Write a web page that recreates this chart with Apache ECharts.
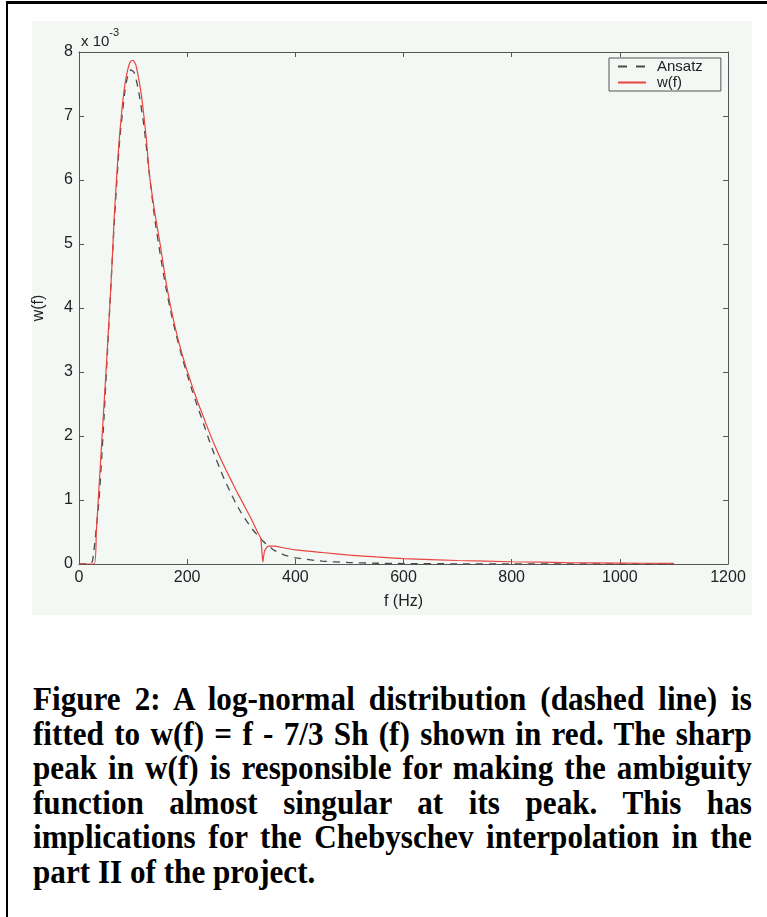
<!DOCTYPE html>
<html>
<head>
<meta charset="utf-8">
<script src="https://cdn.jsdelivr.net/npm/echarts@6/dist/echarts.min.js"></script>
<style>
	html, body { margin: 0; padding: 0; background: #fff; }
	#frame { position: absolute; left: 6px; top: 1px; width: 761px; height: 916px; border-top: 3px solid #000; border-left: 2px solid #000; box-sizing: border-box; }
	#main { position: absolute; left: 0; top: 0; width: 767px; height: 640px; }
	#caption { position: absolute; left: 33px; top: 682px; width: 773px; font-family: "Liberation Serif", "Times New Roman", serif; font-weight: bold; font-size: 33.5px; line-height: 34.6px; text-align: justify; color: #000; transform: scaleX(0.93); transform-origin: 0 0; }
</style>
</head>
<body>
<div id="frame"></div>
<div id="main"></div>
<div id="caption">Figure 2: A log-normal distribution (dashed line) is fitted to w(f) = f - 7/3 Sh (f) shown in red. The sharp peak in w(f) is responsible for making the ambiguity function almost singular at its peak. This has implications for the Chebyschev interpolation in the part II of the project.</div>
<script>
	// 数据 (w 的单位为 10^-3)
	var fAnsatz = [0, 20, 25, 30, 37, 45, 55, 65, 75, 85, 90, 96, 102, 110, 120, 130, 140, 150, 160, 170, 180, 190, 200, 210, 220, 230, 240, 250, 260, 270, 280, 290, 300, 320, 340, 360, 380, 400, 450, 500, 550, 600, 700, 800, 900, 1000, 1100];
	var wAnsatz = [0, 0, 0.05, 0.4, 1.0, 2.1, 3.7, 5.3, 6.6, 7.4, 7.62, 7.72, 7.68, 7.4, 6.85, 6.1, 5.4, 4.85, 4.35, 3.93, 3.57, 3.25, 2.96, 2.69, 2.44, 2.2, 1.95, 1.72, 1.5, 1.3, 1.12, 0.95, 0.8, 0.55, 0.36, 0.22, 0.14, 0.095, 0.045, 0.022, 0.012, 0.007, 0.003, 0.001, 0, 0, 0];

	var fW = [0, 28, 32, 37, 42, 47, 52, 56, 60, 65, 70, 75, 80, 85, 90, 95, 100, 105, 110, 115, 120, 125, 130, 140, 150, 160, 170, 180, 190, 200, 210, 220, 230, 240, 250, 260, 270, 280, 290, 300, 310, 320, 330, 336, 340, 343, 350, 360, 380, 400, 450, 500, 550, 600, 700, 800, 900, 1000, 1100];
	var wW = [0, 0, 0.5, 1.2, 1.9, 2.6, 3.3, 3.9, 4.5, 5.4, 6.1, 6.7, 7.15, 7.5, 7.72, 7.85, 7.87, 7.8, 7.6, 7.35, 7.0, 6.6, 6.1, 5.5, 5.0, 4.45, 4.0, 3.62, 3.3, 3.02, 2.76, 2.52, 2.3, 2.08, 1.87, 1.68, 1.5, 1.33, 1.16, 1.0, 0.84, 0.68, 0.5, 0.4, 0.03, 0.2, 0.28, 0.28, 0.25, 0.22, 0.18, 0.14, 0.11, 0.085, 0.055, 0.035, 0.022, 0.014, 0.009];

	var xTicks = [0, 1200, 200];
	var yTicks = [0, 8, 1];

	function pairs(xs, ys) {
		var out = [];
		for (var i = 0; i < xs.length; i++) out.push([xs[i], ys[i]]);
		return out;
	}

	var bg = '#f4f8f5';
	var axisColor = '#555';
	var font = '"Liberation Sans", Arial, sans-serif';

	function xAxisOpt(pos, labels) {
		return {
			type: 'value', position: pos,
			min: xTicks[0], max: xTicks[1], interval: xTicks[2],
			name: labels ? 'f (Hz)' : '', nameLocation: 'middle', nameGap: 30,
			nameTextStyle: { color: '#222', fontSize: 16, fontFamily: font },
			axisLine: { show: true, onZero: false, lineStyle: { color: axisColor, width: 1 } },
			axisTick: { show: true, inside: true, length: 5, lineStyle: { color: axisColor } },
			axisLabel: {
				show: labels, color: '#222', fontSize: 16, fontFamily: font, margin: 6,
				formatter: function(v) { return String(v); }
			},
			splitLine: { show: false }
		};
	}

	function yAxisOpt(pos, labels) {
		return {
			type: 'value', position: pos,
			min: yTicks[0], max: yTicks[1], interval: yTicks[2],
			name: labels ? 'w(f)' : '', nameLocation: 'middle', nameGap: 32, nameRotate: 90,
			nameTextStyle: { color: '#222', fontSize: 16, fontFamily: font },
			axisLine: { show: true, onZero: false, lineStyle: { color: axisColor, width: 1 } },
			axisTick: { show: true, inside: true, length: 5, lineStyle: { color: axisColor } },
			axisLabel: { show: labels, color: '#222', fontSize: 16, fontFamily: font, margin: 6 },
			splitLine: { show: false }
		};
	}

	var chart = echarts.init(document.getElementById('main'));
	chart.setOption({
		animation: false,
		grid: { left: 79, right: 39, top: 52, bottom: 76 },
		graphic: [{
			type: 'rect', z: -10, silent: true,
			shape: { x: 32, y: 21, width: 720, height: 594 },
			style: { fill: bg }
		}, {
			type: 'text', left: 81, top: 27, silent: true,
			style: {
				text: '{b|x 10}{s|-3}',
				rich: {
					b: { fontSize: 15, fontFamily: font, fill: '#222', verticalAlign: 'bottom', padding: [7, 0, 0, 0] },
					s: { fontSize: 11, fontFamily: font, fill: '#222', verticalAlign: 'top' }
				}
			}
		}],
		legend: {
			orient: 'vertical', left: 609, top: 58,
			itemWidth: 28, itemHeight: 12, itemGap: 1,
			padding: [1, 18, 1, 8],
			borderColor: axisColor, borderWidth: 1, borderRadius: 0,
			backgroundColor: bg,
			selectedMode: false,
			itemStyle: { opacity: 0 },
			textStyle: { fontSize: 15, lineHeight: 14, color: '#222', fontFamily: font, padding: [0, 0, 0, 6] },
			data: [{ name: 'Ansatz', lineStyle: { type: [9, 9] } }, 'w(f)']
		},
		xAxis: [xAxisOpt('bottom', true), xAxisOpt('top', false)],
		yAxis: [yAxisOpt('left', true), yAxisOpt('right', false)],
		series: [{
			name: 'Ansatz', type: 'line',
			data: pairs(fAnsatz, wAnsatz),
			symbol: 'none', smooth: 0.2,
			lineStyle: { color: '#4a4a4a', width: 1.3, type: [7, 6] },
			itemStyle: { color: '#4a4a4a' }
		}, {
			name: 'w(f)', type: 'line',
			data: pairs(fW, wW),
			symbol: 'none', smooth: 0.2,
			lineStyle: { color: '#e8453f', width: 1.2 },
			itemStyle: { color: '#e8453f' }
		}]
	});
</script>
</body>
</html>
